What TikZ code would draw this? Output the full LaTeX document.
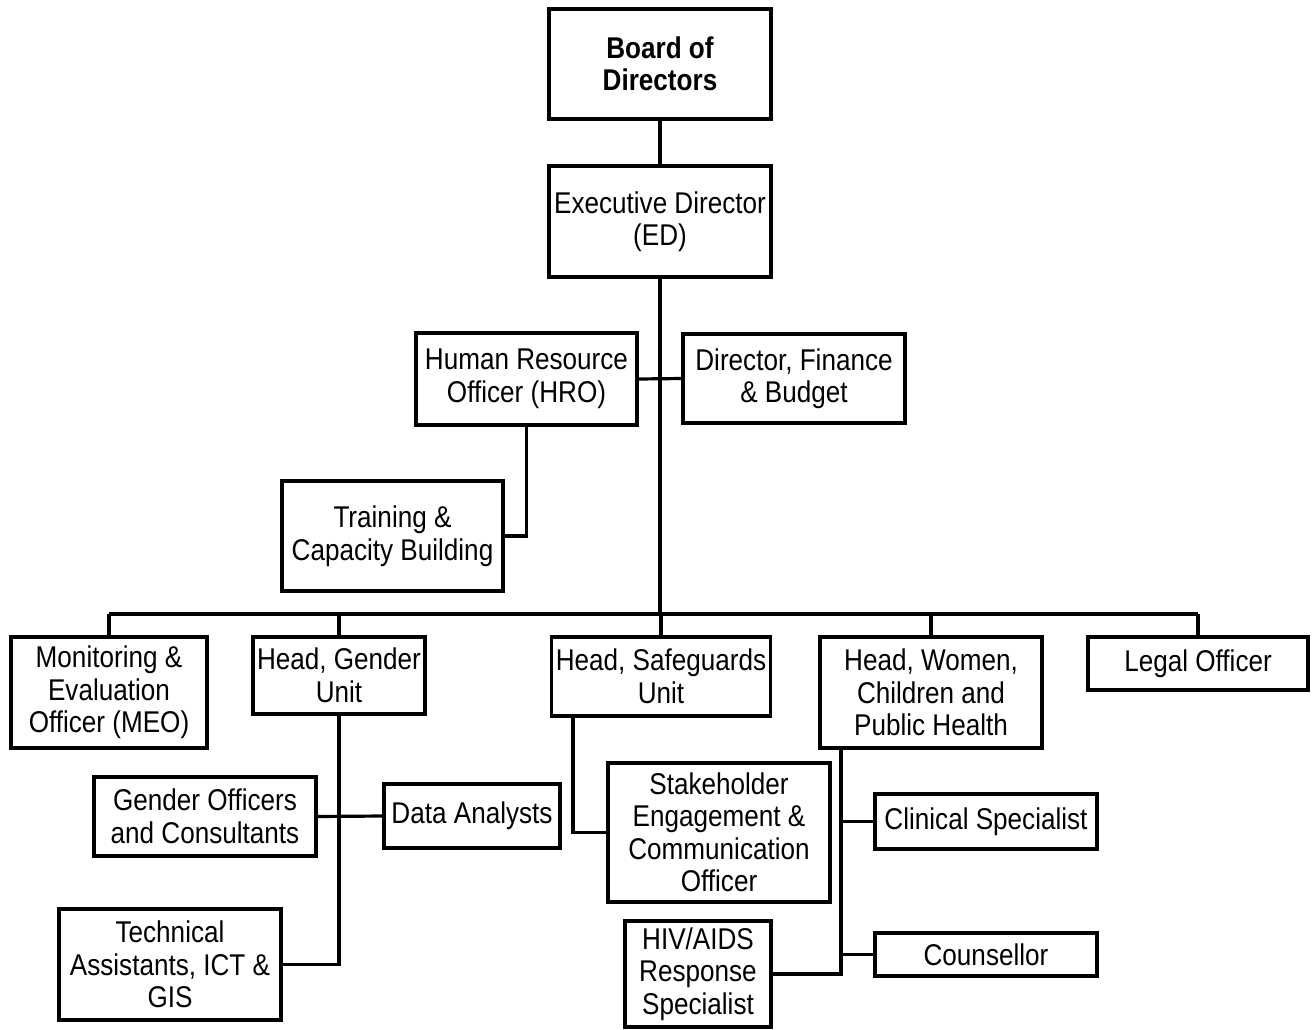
\documentclass[tikz,border=0pt]{standalone}
\usepackage{fontspec}
\setmainfont{Liberation Sans}[FakeStretch=0.87]
\begin{document}
\begin{tikzpicture}[x=1pt,y=-1pt,
  box/.style={draw=black, line width=3.2pt, fill=white, align=center, inner sep=0pt,
    font=\fontsize{30}{32.5}\selectfont},
  conn/.style={draw=black, line width=3.2pt}]
\useasboundingbox (0,0) rectangle (1314,1029);
\coordinate (busL) at (109,614);
\coordinate (busR) at (1198,614);
\coordinate (trunkB) at (660,614);
\node[box, minimum width=222pt, minimum height=110pt] (board) at (660,64) {\bfseries Board of\\\bfseries Directors};
\node[box, minimum width=222pt, minimum height=111pt] (ed) at (660,221.5) {Executive Director\\(ED)};
\node[box, minimum width=221pt, minimum height=92pt] (hro) at (526.5,379) {Human Resource\\Officer (HRO)};
\node[box, minimum width=222pt, minimum height=89pt] (fin) at (794,378.5) {Director, Finance\\\& Budget};
\node[box, minimum width=221pt, minimum height=110pt] (train) at (392.5,536) {Training \&\\Capacity Building};
\node[box, minimum width=196pt, minimum height=111pt] (meo) at (109,692.5) {Monitoring \&\\Evaluation\\Officer (MEO)};
\node[box, minimum width=172pt, minimum height=77pt] (gender) at (339,675.5) {Head, Gender\\Unit};
\node[box, minimum width=219pt, minimum height=79pt] (safe) at (661,676.5) {Head, Safeguards\\Unit};
\node[box, minimum width=222pt, minimum height=111pt] (women) at (931,692.5) {Head, Women,\\Children and\\Public Health};
\node[box, minimum width=220pt, minimum height=53pt] (legal) at (1198,663.5) {Legal Officer};
\node[box, minimum width=222pt, minimum height=79pt] (gofc) at (205,816.5) {Gender Officers\\and Consultants};
\node[box, minimum width=176pt, minimum height=64pt] (data) at (472,816) {Data Analysts};
\node[box, minimum width=222pt, minimum height=139pt] (stake) at (719,832.5) {Stakeholder\\Engagement \&\\Communication\\Officer};
\node[box, minimum width=222pt, minimum height=55pt] (clin) at (986,821.5) {Clinical Specialist};
\node[box, minimum width=222pt, minimum height=111pt] (tech) at (170,964.5) {Technical\\Assistants, ICT \&\\GIS};
\node[box, minimum width=146pt, minimum height=106pt] (hiv) at (698,974) {HIV/AIDS\\Response\\Specialist};
\node[box, minimum width=222pt, minimum height=43pt] (couns) at (986,954.5) {Counsellor};
\coordinate (sv) at ([xshift=23pt]safe.south west);
\coordinate (wv) at ([xshift=22.5pt]women.south west);
\draw[conn] (board.south) -- (ed.north);
\draw[conn] (ed.south) -- (trunkB);
\draw[conn] (hro.east) -- (fin.west);
\draw[conn] (hro.south) |- (train.east);
\draw[conn] (busL) -- (busR);
\draw[conn] (meo.north) -- (meo.north |- busL);
\draw[conn] (gender.north) -- (gender.north |- busL);
\draw[conn] (safe.north) -- (safe.north |- busL);
\draw[conn] (women.north) -- (women.north |- busL);
\draw[conn] (legal.north) -- (legal.north |- busL);
\draw[conn] (gender.south) |- (tech.east);
\draw[conn] (gofc.east) -- (data.west);
\draw[conn] (sv) |- (stake.west);
\draw[conn] (wv) |- (hiv.east);
\draw[conn] (clin.west) -- (clin.west -| wv);
\draw[conn] (couns.west) -- (couns.west -| wv);
\end{tikzpicture}
\end{document}
